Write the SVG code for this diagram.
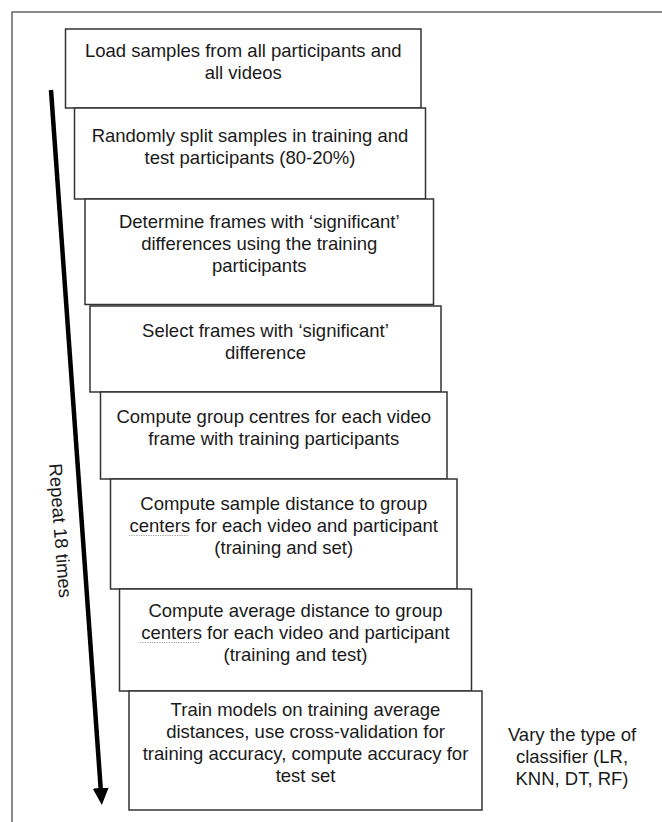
<svg xmlns="http://www.w3.org/2000/svg" width="662" height="822" viewBox="0 0 662 822">
<style>
  .frame { fill: none; stroke: #666; stroke-width: 1.5; }
  .box { fill: #fff; stroke: #333; stroke-width: 1.5; }
  text { font-family: "Liberation Sans", Arial, sans-serif; font-size: 18.5px; fill: #1a1a1a; }
  .c { text-anchor: middle; }
  .squig { fill: none; stroke: #999; stroke-width: 1; stroke-dasharray: 1.2 1.2; }
  .arrow { fill: none; stroke: #000; stroke-width: 4.5; }
</style>
<defs>
  <marker id="head" markerUnits="userSpaceOnUse" markerWidth="18" markerHeight="18" refX="2" refY="8" orient="auto">
    <path d="M0,0 L17,8 L0,16 Z" fill="#000"/>
  </marker>
</defs>
<rect width="662" height="822" fill="#fff"/>
<rect class="frame" x="12" y="12" width="700" height="900"/>

<g id="connectors">
  <line class="arrow" x1="51" y1="90" x2="100.8" y2="790" marker-end="url(#head)"/>
  <text transform="translate(49,464) rotate(85.7)">Repeat 18 times</text>
</g>

<g id="n1">
  <rect class="box" x="65.5" y="29" width="355.5" height="79"/>
  <text class="c" x="243.25" y="57">Load samples from all participants and</text>
  <text class="c" x="243.25" y="79">all videos</text>
</g>
<g id="n2">
  <rect class="box" x="74.5" y="108" width="351" height="91"/>
  <text class="c" x="250" y="142">Randomly split samples in training and</text>
  <text class="c" x="250" y="164">test participants (80-20%)</text>
</g>
<g id="n3">
  <rect class="box" x="85" y="199" width="348.5" height="105.5"/>
  <text class="c" x="259.25" y="228">Determine frames with ‘significant’</text>
  <text class="c" x="259.25" y="250">differences using the training</text>
  <text class="c" x="259.25" y="272">participants</text>
</g>
<g id="n4">
  <rect class="box" x="90" y="306" width="351" height="86"/>
  <text class="c" x="265.5" y="337">Select frames with ‘significant’</text>
  <text class="c" x="265.5" y="359">difference</text>
</g>
<g id="n5">
  <rect class="box" x="100.5" y="392" width="346.5" height="87"/>
  <text class="c" x="273.75" y="423">Compute group centres for each video</text>
  <text class="c" x="273.75" y="445">frame with training participants</text>
</g>
<g id="n6">
  <rect class="box" x="110.5" y="479" width="346.5" height="110"/>
  <text class="c" x="283.75" y="510">Compute sample distance to group</text>
  <text class="c" x="283.75" y="532">centers for each video and participant</text>
  <text class="c" x="283.75" y="554">(training and set)</text>
  <path class="squig" d="M129,535.5 L189,535.5"/>
</g>
<g id="n7">
  <rect class="box" x="119.5" y="589" width="352" height="102"/>
  <text class="c" x="295.5" y="617">Compute average distance to group</text>
  <text class="c" x="295.5" y="639">centers for each video and participant</text>
  <text class="c" x="295.5" y="661">(training and test)</text>
  <path class="squig" d="M140,642.5 L200,642.5"/>
</g>
<g id="n8">
  <rect class="box" x="129" y="691" width="353" height="119"/>
  <text class="c" x="305.5" y="716">Train models on training average</text>
  <text class="c" x="305.5" y="738">distances, use cross-validation for</text>
  <text class="c" x="305.5" y="760">training accuracy, compute accuracy for</text>
  <text class="c" x="305.5" y="782">test set</text>
</g>
<g id="note">
  <text class="c" x="572" y="741">Vary the type of</text>
  <text class="c" x="572" y="763">classifier (LR,</text>
  <text class="c" x="572" y="785">KNN, DT, RF)</text>
</g>
</svg>
